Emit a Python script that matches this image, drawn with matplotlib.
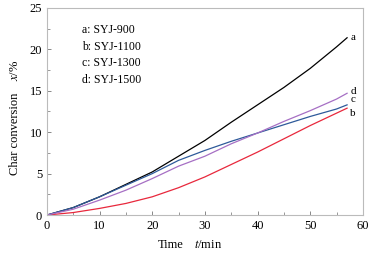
import matplotlib
matplotlib.use('Agg')
import matplotlib.pyplot as plt
from matplotlib.ticker import MultipleLocator

plt.rcParams['font.family'] = 'Liberation Serif'
plt.rcParams['mathtext.fontset'] = 'stix'

# time, min
t = [0, 5, 10, 15, 20, 25, 30, 35, 40, 45, 50, 55, 57]
# char conversion, %
a_900 = [0, 0.9, 2.2, 3.7, 5.2, 7.1, 9.0, 11.2, 13.3, 15.4, 17.7, 20.3, 21.4]
b_1100 = [0, 0.3, 0.8, 1.4, 2.2, 3.3, 4.6, 6.1, 7.6, 9.2, 10.8, 12.3, 12.9]
c_1300 = [0, 0.9, 2.2, 3.6, 5.0, 6.6, 7.8, 8.9, 9.9, 10.9, 11.9, 12.8, 13.3]
d_1500 = [0, 0.7, 1.8, 3.0, 4.4, 5.9, 7.1, 8.6, 9.9, 11.3, 12.6, 14.0, 14.7]

series = [('a', a_900, 'black'), ('b', b_1100, '#e8283c'),
          ('c', c_1300, '#2e5a9a'), ('d', d_1500, '#a66fc4')]
legend_lines = ['a: SYJ-900', 'b: SYJ-1100', 'c: SYJ-1300', 'd: SYJ-1500']
label_offset = {'a': 0.0, 'b': -0.6, 'c': 0.65, 'd': 0.2}

fig = plt.figure(figsize=(3.78, 2.56), dpi=100)
ax = fig.add_axes([0.124, 0.160, 0.836, 0.809])

for name, vals, col in series:
    ax.plot(t, vals, color=col, lw=0.9)
    ax.text(t[-1] + 0.6, vals[-1] + label_offset[name], name,
            fontsize=8, va='center', ha='left')

for i, s in enumerate(legend_lines):
    ax.text(6.6, 22.3 - i * 2.0, s, fontsize=8.5, va='center', ha='left')

ax.set_xlim(0, 60)
ax.set_ylim(0, 25)
ax.xaxis.set_major_locator(MultipleLocator(10))
ax.xaxis.set_minor_locator(MultipleLocator(5))
ax.yaxis.set_major_locator(MultipleLocator(5))
ax.yaxis.set_minor_locator(MultipleLocator(2.5))
ax.tick_params(which='both', direction='in', colors='#888888', labelcolor='black',
               labelsize=9, top=False, right=False)
ax.tick_params(which='major', length=3, width=0.7)
ax.tick_params(which='minor', length=2, width=0.6)
for sp in ax.spines.values():
    sp.set_color('#bbbbbb')
    sp.set_linewidth(0.8)

# axis titles, placed as in the original figure
fig.text(183 / 378, 1 - 245 / 256, 'Time', fontsize=9, ha='right', va='center')
fig.text(194 / 378, 1 - 245 / 256, '$t$/min', fontsize=9, ha='left', va='center')
fig.text(15 / 378, 1 - 134 / 256, 'Char conversion', fontsize=9, rotation=90,
         ha='center', va='center')
fig.text(15 / 378, 1 - 70 / 256, '$x$/%', fontsize=9, rotation=90,
         ha='center', va='center')

fig.savefig('out.png', dpi=100)
